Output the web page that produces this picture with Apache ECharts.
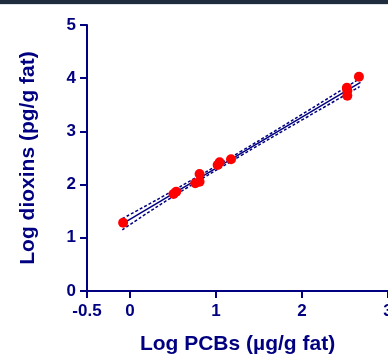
<!DOCTYPE html>
<html>
<head>
<meta charset="utf-8">
<script src="https://cdn.jsdelivr.net/npm/echarts@6/dist/echarts.min.js"></script>
<style>
  html, body { margin: 0; padding: 0; background: #fff; }
  #topbar { position: absolute; left: 0; top: 0; width: 388px; height: 4px; background: #1f2c3e; border-bottom: 1px solid #dde3e6; z-index: 2; }
  #chart { width: 388px; height: 360px; }
</style>
</head>
<body>
<div id="topbar"></div>
<div id="chart"></div>
<script>
// values
const logPcbs = [-0.08, 0.506, 0.537, 0.759, 0.809, 0.809, 1.019, 1.042, 1.175, 2.522, 2.527, 2.527, 2.662];
const logDioxins = [1.284, 1.823, 1.866, 2.024, 2.055, 2.199, 2.368, 2.419, 2.476, 3.82, 3.765, 3.671, 4.028];

// regression line and 95% band
const fitLine = [[-0.08, 1.273], [2.68, 3.92]];
const upperBand = [[-0.09, 1.36], [0.5, 1.885], [1.3, 2.635], [2.0, 3.32], [2.67, 3.99]];
const lowerBand = [[-0.09, 1.15], [0.5, 1.775], [1.3, 2.555], [2.0, 3.215], [2.67, 3.84]];

const xTicks = [-0.5, 0, 1, 2, 3];
const yTicks = [0, 1, 2, 3, 4, 5];

const navy = "#000080";
const fontFamily = "'Liberation Sans', Arial, sans-serif";

const chart = echarts.init(document.getElementById("chart"));

const axisCommon = {
  type: "value",
  axisLine: { show: true, onZero: false, lineStyle: { color: navy, width: 2 } },
  axisTick: { show: true, length: 7, lineStyle: { color: navy, width: 2 } },
  splitLine: { show: false },
  nameLocation: "middle",
  nameTextStyle: { color: navy, fontSize: 21, fontWeight: "bold", fontFamily: fontFamily },
};

chart.setOption({
  animation: false,
  // keep the plot edge at the window edge, the "3" gets clipped like in the source
  grid: { left: 87, right: 0, top: 25, bottom: 69, containLabel: false, outerBoundsMode: "none" },
  xAxis: {
    ...axisCommon,
    min: -0.5,
    max: 3,
    name: "Log PCBs (µg/g fat)",
    nameGap: 43,
    axisTick: { ...axisCommon.axisTick, customValues: xTicks },
    axisLabel: {
      customValues: xTicks,
      margin: 12,
      color: navy,
      fontSize: 17,
      fontWeight: "bold",
      fontFamily: fontFamily,
    },
  },
  yAxis: {
    ...axisCommon,
    min: 0,
    max: 5,
    interval: 1,
    name: "Log dioxins (pg/g fat)",
    nameGap: 48,
    axisTick: { ...axisCommon.axisTick, customValues: yTicks },
    axisLabel: {
      customValues: yTicks,
      margin: 11,
      color: navy,
      fontSize: 17,
      fontWeight: "bold",
      fontFamily: fontFamily,
    },
  },
  series: [
    {
      type: "line",
      data: fitLine,
      symbol: "none",
      lineStyle: { color: navy, width: 1.5 },
      z: 2,
    },
    {
      type: "line",
      data: upperBand,
      smooth: true,
      symbol: "none",
      lineStyle: { color: navy, width: 1.5, type: [3, 2] },
      z: 2,
    },
    {
      type: "line",
      data: lowerBand,
      smooth: true,
      symbol: "none",
      lineStyle: { color: navy, width: 1.5, type: [3, 2] },
      z: 2,
    },
    {
      type: "scatter",
      data: logPcbs.map((x, i) => [x, logDioxins[i]]),
      symbolSize: 10,
      itemStyle: { color: "#ff0000", opacity: 1 },
      z: 3,
    },
  ],
});
</script>
</body>
</html>
